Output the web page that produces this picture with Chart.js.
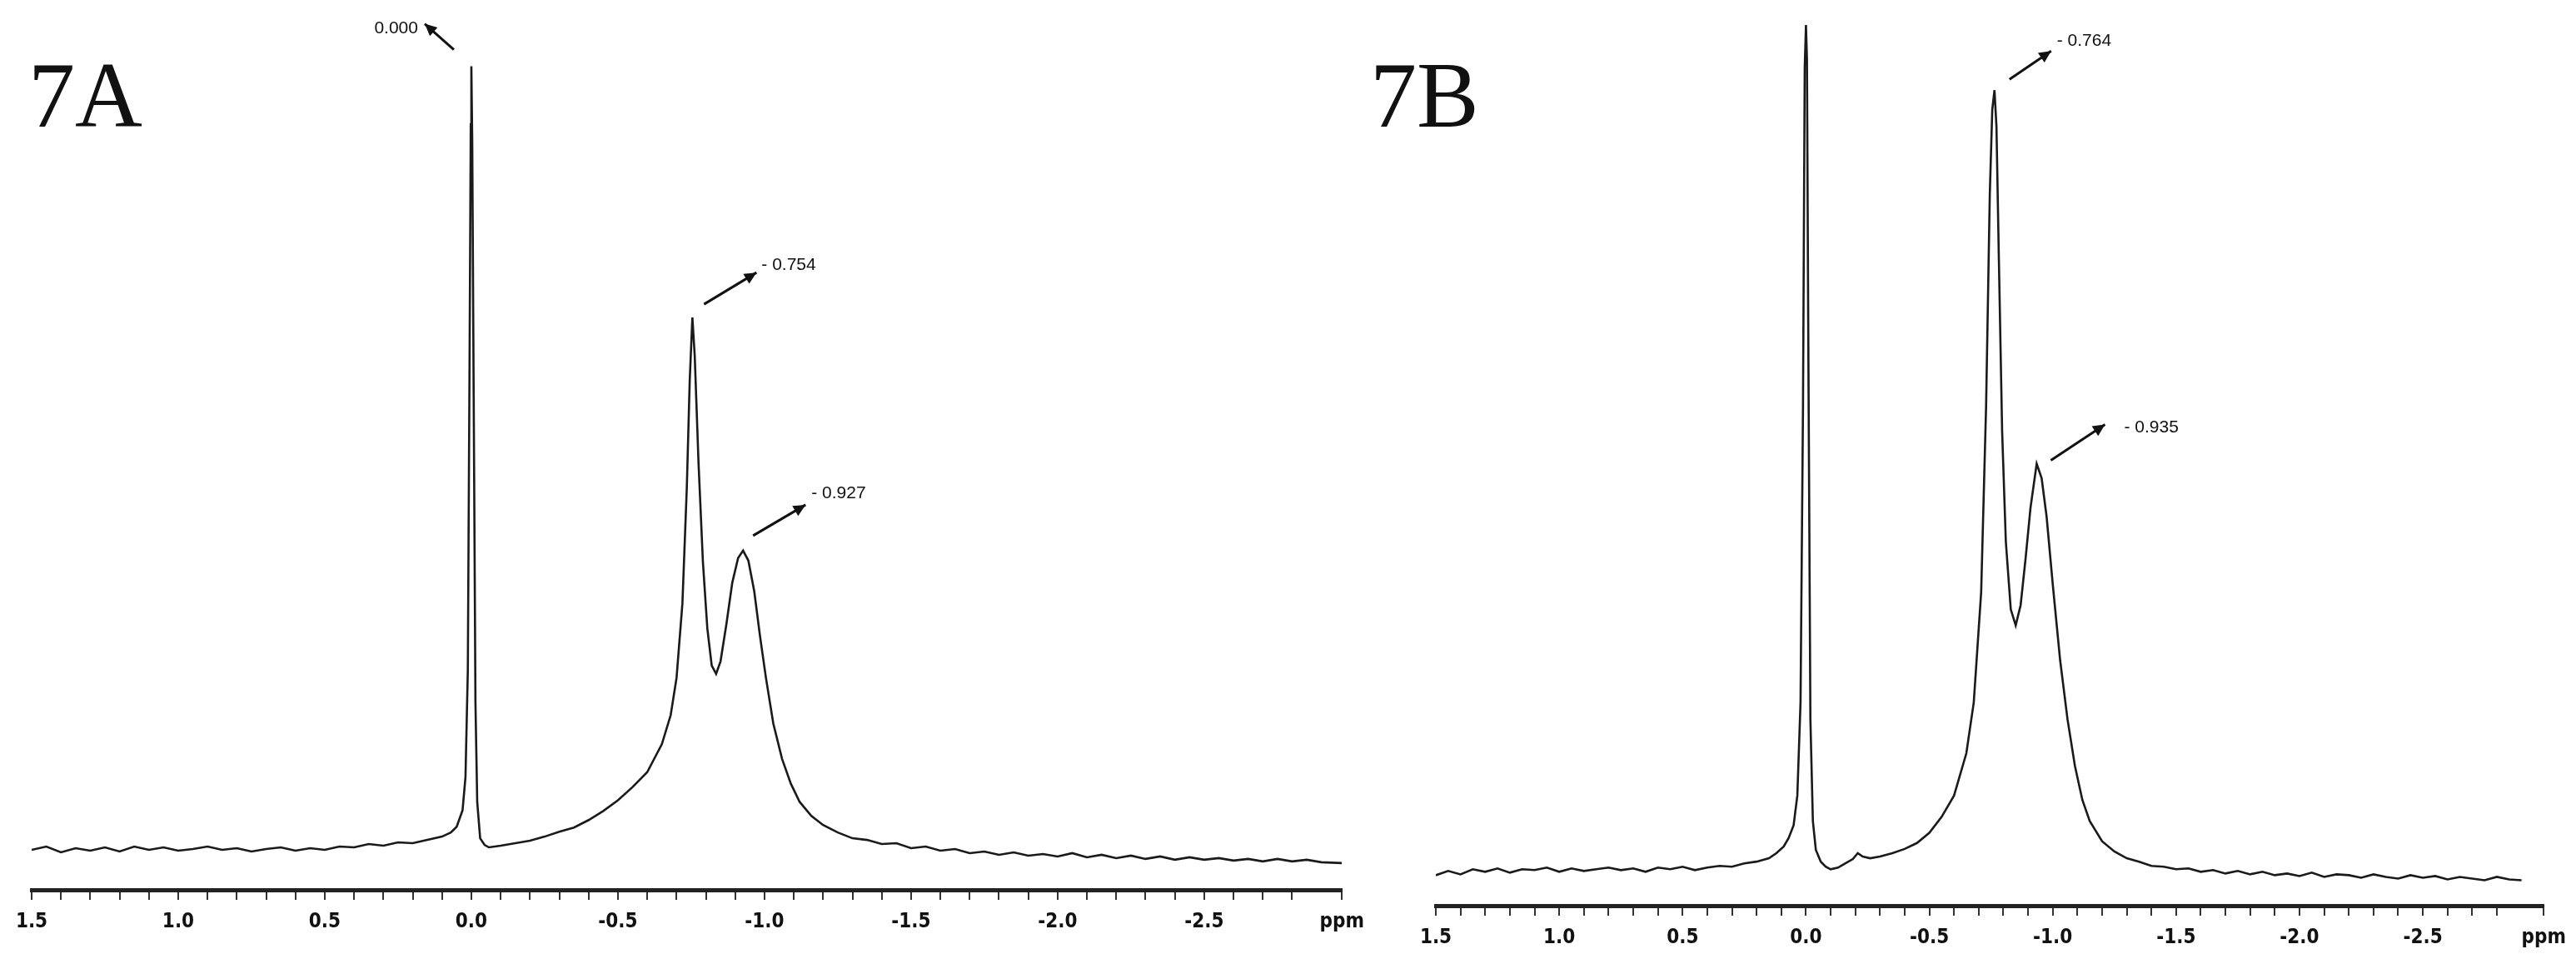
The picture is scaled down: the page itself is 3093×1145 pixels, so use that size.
<!DOCTYPE html>
<html><head><meta charset="utf-8">
<script src="https://cdn.jsdelivr.net/npm/chart.js@4.4.1/dist/chart.umd.min.js"></script>
<style>
html,body{margin:0;padding:0;background:#fff;width:3093px;height:1145px;overflow:hidden}
.p{position:absolute;top:0;height:1145px}
.lbl{position:absolute;font-family:"Liberation Serif","Times New Roman",serif;font-size:112px;color:#111}
</style></head><body>
<div class="p" style="left:0;width:1650px"><canvas id="a"></canvas></div>
<div class="p" style="left:1650px;width:1443px"><canvas id="b"></canvas></div>
<div class="lbl" style="left:34px;top:50px">7A</div>
<div class="lbl" style="left:1645px;top:50px">7B</div>
<script>
// Spectrum 7A: chemical shift (ppm) and relative intensity
const ppmA = [1.50,1.45,1.40,1.35,1.30,1.25,1.20,1.15,1.10,1.05,1.00,0.95,0.90,0.85,0.80,0.75,0.70,0.65,0.60,0.55,0.50,0.45,0.40,0.35,0.30,0.25,0.20,0.15,0.10,0.07,0.05,0.03,0.02,0.012,0.006,0.002,0.000,-0.003,-0.008,-0.014,-0.020,-0.030,-0.045,-0.06,-0.10,-0.15,-0.20,-0.25,-0.30,-0.35,-0.40,-0.45,-0.50,-0.55,-0.60,-0.65,-0.68,-0.70,-0.72,-0.735,-0.745,-0.754,-0.762,-0.775,-0.79,-0.805,-0.82,-0.835,-0.85,-0.87,-0.89,-0.91,-0.927,-0.945,-0.965,-0.985,-1.005,-1.03,-1.06,-1.09,-1.12,-1.16,-1.20,-1.25,-1.30,-1.35,-1.40,-1.45,-1.50,-1.55,-1.60,-1.65,-1.70,-1.75,-1.80,-1.85,-1.90,-1.95,-2.00,-2.05,-2.10,-2.15,-2.20,-2.25,-2.30,-2.35,-2.40,-2.45,-2.50,-2.55,-2.60,-2.65,-2.70,-2.75,-2.80,-2.85,-2.90,-2.97];
const intA = [0.2,0.6,-0.1,0.4,0.1,0.5,0.0,0.6,0.2,0.5,0.1,0.3,0.6,0.2,0.4,0.0,0.3,0.5,0.1,0.4,0.2,0.6,0.5,0.9,0.7,1.1,1.0,1.4,1.8,2.3,3.0,5.0,9.0,22.0,60.0,88.0,95.0,86.0,55.0,18.0,6.0,1.6,0.8,0.5,0.7,1.0,1.3,1.8,2.4,2.9,3.8,4.9,6.2,7.8,9.6,13.0,16.5,21.0,30.0,44.0,57.0,64.6,60.0,47.0,35.0,27.0,22.5,21.5,23.0,27.5,32.5,35.5,36.4,35.2,31.5,26.0,21.0,15.5,11.2,8.2,6.0,4.3,3.2,2.3,1.6,1.4,0.9,1.0,0.4,0.6,0.1,0.3,-0.2,0.0,-0.4,-0.1,-0.5,-0.3,-0.6,-0.2,-0.7,-0.4,-0.8,-0.5,-0.9,-0.6,-1.0,-0.7,-1.0,-0.8,-1.1,-0.9,-1.2,-0.9,-1.2,-1.0,-1.3,-1.4];
// Spectrum 7B
const ppmB = [1.50,1.45,1.40,1.35,1.30,1.25,1.20,1.15,1.10,1.05,1.00,0.95,0.90,0.85,0.80,0.75,0.70,0.65,0.60,0.55,0.50,0.45,0.40,0.35,0.30,0.25,0.20,0.15,0.12,0.09,0.07,0.05,0.035,0.022,0.012,0.005,0.000,-0.004,-0.010,-0.018,-0.028,-0.040,-0.06,-0.08,-0.10,-0.13,-0.16,-0.19,-0.21,-0.23,-0.26,-0.30,-0.35,-0.40,-0.45,-0.50,-0.55,-0.60,-0.65,-0.68,-0.71,-0.73,-0.745,-0.755,-0.764,-0.772,-0.782,-0.795,-0.81,-0.83,-0.85,-0.87,-0.89,-0.91,-0.935,-0.955,-0.975,-1.00,-1.03,-1.06,-1.09,-1.12,-1.15,-1.20,-1.25,-1.30,-1.35,-1.40,-1.45,-1.50,-1.55,-1.60,-1.65,-1.70,-1.75,-1.80,-1.85,-1.90,-1.95,-2.00,-2.05,-2.10,-2.15,-2.20,-2.25,-2.30,-2.35,-2.40,-2.45,-2.50,-2.55,-2.60,-2.65,-2.70,-2.75,-2.80,-2.85,-2.90,-2.99];
const intB = [-0.4,0.1,-0.3,0.3,0.0,0.4,-0.1,0.3,0.2,0.5,0.0,0.4,0.1,0.3,0.5,0.2,0.4,0.0,0.5,0.3,0.6,0.2,0.5,0.7,0.6,1.0,1.2,1.6,2.2,3.0,4.0,5.5,9.0,20.0,55.0,95.0,100.0,96.0,60.0,18.0,6.0,2.6,1.2,0.6,0.3,0.5,1.0,1.5,2.2,1.8,1.6,1.8,2.2,2.7,3.4,4.6,6.5,9.0,14.0,20.0,33.0,55.0,80.0,90.0,92.3,88.0,72.0,52.0,39.0,31.0,29.1,31.5,37.0,43.0,48.2,46.5,42.0,34.0,25.0,18.0,12.5,8.5,6.0,3.6,2.4,1.6,1.2,0.7,0.6,0.3,0.4,0.0,0.2,-0.2,0.1,-0.3,0.0,-0.4,-0.2,-0.5,-0.1,-0.6,-0.3,-0.4,-0.7,-0.3,-0.6,-0.8,-0.4,-0.7,-0.5,-0.9,-0.6,-0.8,-1.0,-0.6,-0.9,-1.0];
const tickStepLabels = ["1.5","1.0","0.5","0.0","-0.5","-1.0","-1.5","-2.0","-2.5"];
const peaksA = [{ppm:0.000,val:95.0,label:"0.000"},{ppm:-0.754,val:64.6,label:"- 0.754"},{ppm:-0.927,val:36.4,label:"- 0.927"}];
const peaksB = [{ppm:-0.764,val:92.3,label:"- 0.764"},{ppm:-0.935,val:48.2,label:"- 0.935"}];

const arrowStyleA = [{t:[-21,-20],h:[-56,-51],l:[-64,-45],align:'right'},{t:[14,-16],h:[77,-54],l:[83,-63],align:'left'},{t:[12,-18],h:[75,-55],l:[82,-69],align:'left'}];
const arrowStyleB = [{t:[18,-13],h:[68,-47],l:[75,-59],align:'left'},{t:[17,-4],h:[82,-47],l:[105,-43],align:'left'}];

function labelFor(v){
  const i = tickStepLabels.findIndex(s=>Math.abs(parseFloat(s)-v)<1e-6);
  return i>=0 ? tickStepLabels[i] : '';
}
const arrowPlugin = {
  id:'arrows',
  afterDatasetsDraw(chart, args, opts){
    const c=chart.ctx, xs=chart.scales.x, ys=chart.scales.y;
    c.save();
    opts.peaks.forEach((p,i)=>{
      const st=opts.styles[i];
      const px=xs.getPixelForValue(p.ppm), py=ys.getPixelForValue(p.val);
      const x1=px+st.t[0], y1=py+st.t[1], x2=px+st.h[0], y2=py+st.h[1];
      c.strokeStyle='#111'; c.fillStyle='#111'; c.lineWidth=3;
      c.beginPath(); c.moveTo(x1,y1); c.lineTo(x2,y2); c.stroke();
      const a=Math.atan2(y2-y1,x2-x1), L=16, W=0.45;
      c.beginPath(); c.moveTo(x2,y2);
      c.lineTo(x2-L*Math.cos(a-W),y2-L*Math.sin(a-W));
      c.lineTo(x2-L*Math.cos(a+W),y2-L*Math.sin(a+W)); c.closePath(); c.fill();
      c.font='21px "Liberation Sans", Arial, sans-serif';
      c.textAlign=st.align; c.textBaseline='middle';
      c.fillText(p.label, px+st.l[0], py+st.l[1]);
    });
    c.restore();
  }
};
function make(id, xs, ys, xmin, xmax, ymin, padL, padR, axH, peaks, styles){
  const data = xs.map((x,i)=>({x, y:ys[i]}));
  new Chart(document.getElementById(id), {
    type:'line',
    data:{datasets:[{data, borderColor:'#1a1a1a', borderWidth:2.6, pointRadius:0, tension:0, fill:false}]},
    options:{
      responsive:true, maintainAspectRatio:false, animation:false,
      layout:{padding:{left:padL,right:padR,top:30,bottom:0}},
      plugins:{legend:{display:false}, tooltip:{enabled:false}, arrows:{peaks, styles}},
      scales:{
        x:{type:'linear', reverse:true, min:xmin, max:xmax,
          afterFit(s){ s.height = axH; },
          border:{display:true, color:'#222', width:5},
          grid:{drawOnChartArea:false, drawTicks:true, tickLength:12, color:'#333', lineWidth:2},
          ticks:{stepSize:0.1, autoSkip:false, maxRotation:0, padding:12, color:'#111',
            font:{family:'"DejaVu Sans Condensed","DejaVu Sans",sans-serif', size:24, weight:'bold'},
            callback:(v)=> Math.abs(v-xmin)<1e-6 ? 'ppm' : labelFor(v)}},
        y:{display:false, min:ymin, max:100}
      }
    },
    plugins:[arrowPlugin]
  });
}
make('a', ppmA, intA, -2.97, 1.5, -4.64, 38, 23, 77, peaksA, arrowStyleA);
make('b', ppmB, intB, -2.99, 1.5, -4.0, 74, 31, 58, peaksB, arrowStyleB);
</script></body></html>
